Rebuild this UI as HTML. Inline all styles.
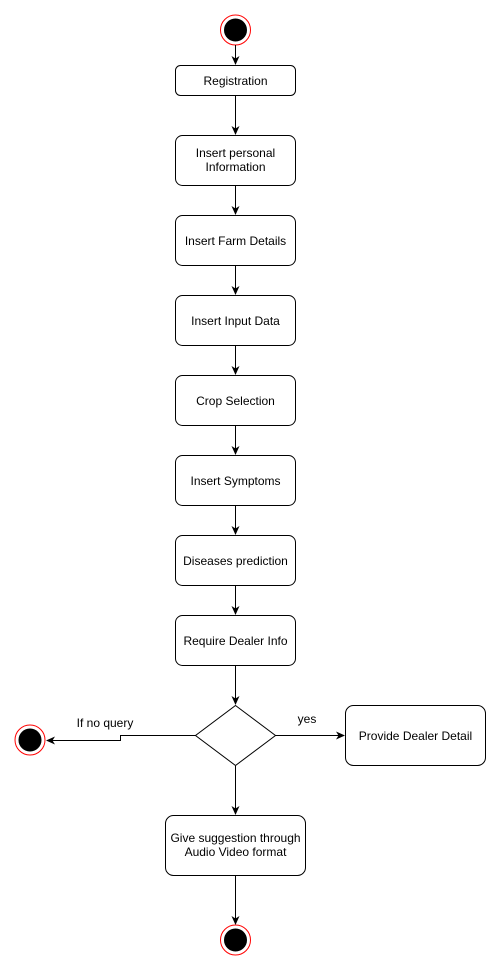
<!DOCTYPE html>
<html><head><style>body{margin:0;background:#fff}</style></head><body>
<svg width="501" height="971" xmlns="http://www.w3.org/2000/svg" font-family="Liberation Sans, sans-serif" font-size="12">
<defs><marker id="a" markerWidth="10" markerHeight="10" refX="8" refY="4" orient="auto" markerUnits="userSpaceOnUse"><path d="M0,0 L9,4 L0,8 L2.5,4 Z" fill="#000"/></marker></defs>
<g fill="none" stroke="#000" stroke-width="1">
<circle cx="235.5" cy="30" r="15" stroke="#f00"/><circle cx="235.5" cy="30" r="11" fill="#000"/>
<circle cx="30" cy="740" r="15" stroke="#f00"/><circle cx="30" cy="740" r="11" fill="#000"/>
<circle cx="235.5" cy="940" r="15" stroke="#f00"/><circle cx="235.5" cy="940" r="11" fill="#000"/>
<rect x="175.5" y="65.5" width="120" height="30" rx="5"/>
<rect x="175.5" y="135.5" width="120" height="50" rx="7"/>
<rect x="175.5" y="215.5" width="120" height="50" rx="7"/>
<rect x="175.5" y="295.5" width="120" height="50" rx="7"/>
<rect x="175.5" y="375.5" width="120" height="50" rx="7"/>
<rect x="175.5" y="455.5" width="120" height="50" rx="7"/>
<rect x="175.5" y="535.5" width="120" height="50" rx="7"/>
<rect x="175.5" y="615.5" width="120" height="50" rx="7"/>
<path d="M235.5,705.5 L275.5,735.5 L235.5,765.5 L195.5,735.5 Z"/>
<rect x="345.5" y="705.5" width="140" height="60" rx="8"/>
<rect x="165.5" y="815.5" width="140" height="60" rx="8"/>
<g marker-end="url(#a)">
<path d="M235.5,45 V64"/><path d="M235.5,96 V134"/><path d="M235.5,186 V214"/><path d="M235.5,266 V294"/>
<path d="M235.5,346 V374"/><path d="M235.5,426 V454"/><path d="M235.5,506 V534"/><path d="M235.5,586 V614"/>
<path d="M235.5,666 V704"/><path d="M275.5,735.5 H344"/><path d="M195.5,735.5 H120.5 V740.5 H47"/>
<path d="M235.5,766 V814"/><path d="M235.5,876 V924"/>
</g></g>
<g fill="#000" text-anchor="middle">
<text x="235.5" y="85">Registration</text>
<text x="235.5" y="157">Insert personal</text><text x="235.5" y="171">Information</text>
<text x="235.5" y="245">Insert Farm Details</text>
<text x="235.5" y="325">Insert Input Data</text>
<text x="235.5" y="405">Crop Selection</text>
<text x="235.5" y="485">Insert Symptoms</text>
<text x="235.5" y="565">Diseases prediction</text>
<text x="235.5" y="645">Require Dealer Info</text>
<text x="415.5" y="740">Provide Dealer Detail</text>
<text x="235.5" y="842">Give suggestion through</text><text x="235.5" y="856">Audio Video format</text>
<text x="105" y="727">If no query</text>
<text x="307" y="723">yes</text>
</g>
</svg>
</body></html>
